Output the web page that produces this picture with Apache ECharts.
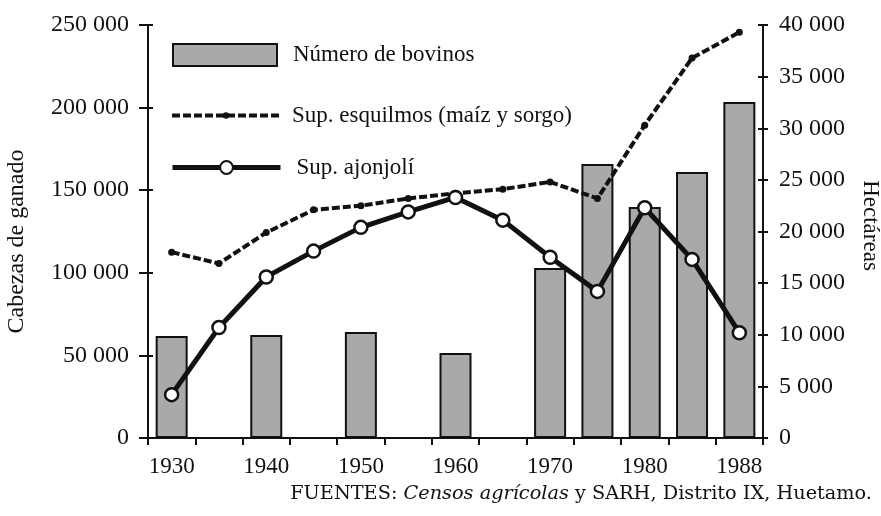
<!DOCTYPE html>
<html>
<head>
<meta charset="utf-8">
<script src="https://cdn.jsdelivr.net/npm/echarts@6/dist/echarts.min.js"></script>
<style>
  html, body { margin: 0; padding: 0; background: #fff; }
  #chart { width: 881px; height: 516px; }
</style>
</head>
<body>
<div id="chart"></div>
<script>
  // años (eje x), las barras solo existen en algunos
  var years = ['1930', '1935', '1940', '1945', '1950', '1955', '1960', '1965', '1970', '1975', '1980', '1985', '1988'];
  // número de bovinos (cabezas de ganado), null = sin barra
  var bovinos = [61700, null, 62300, null, 64200, null, 51400, null, 102900, 165900, 139800, 161000, 203400];
  // superficie esquilmos (maíz y sorgo), hectáreas
  var esquilmos = [18000, 16900, 19900, 22100, 22500, 23200, 23700, 24100, 24800, 23200, 30300, 36800, 39300];
  // superficie ajonjolí, hectáreas
  var ajonjoli = [4200, 10700, 15600, 18100, 20400, 21900, 23300, 21100, 17500, 14200, 22300, 17300, 10200];

  var serif = '"Liberation Serif", "DejaVu Serif", serif';

  function fmt(v) {
    return String(v).replace(/\B(?=(\d{3})+(?!\d))/g, ' ');
  }

  var chart = echarts.init(document.getElementById('chart'));

  var legendText = { fontFamily: serif, fontSize: 23, color: '#111' };

  var option = {
    animation: false,
    backgroundColor: '#fff',
    textStyle: { fontFamily: serif, color: '#111' },
    grid: { left: 148, right: 118, top: 25, bottom: 78, containLabel: false, outerBoundsMode: 'none' },
    title: {
      text: '{a|FUENTES: }{b|Censos agrícolas}{a| y SARH, Distrito IX, Huetamo.}',
      right: 4,
      bottom: 8,
      textStyle: {
        rich: {
          a: { fontFamily: '"DejaVu Serif", serif', fontSize: 19.3, fontWeight: 'normal', color: '#111' },
          b: { fontFamily: '"DejaVu Serif", serif', fontSize: 19.3, fontWeight: 'normal', fontStyle: 'italic', color: '#111' }
        }
      }
    },
    // tres leyendas para poder ajustar cada símbolo
    legend: [
      {
        left: 172, top: 43, padding: 0,
        icon: 'rect', itemWidth: 104, itemHeight: 22,
        textStyle: Object.assign({ padding: [0, 0, 0, 11] }, legendText),
        data: ['Número de bovinos']
      },
      {
        left: 170, top: 104, padding: 0,
        itemWidth: 108, itemHeight: 8,
        textStyle: Object.assign({ padding: [0, 0, 0, 7] }, legendText),
        data: [{ name: 'Sup. esquilmos (maíz y sorgo)', lineStyle: { width: 4, type: [8, 3] } }]
      },
      {
        left: 170, top: 156, padding: 0,
        itemWidth: 108, itemHeight: 16,
        textStyle: Object.assign({ padding: [0, 0, 0, 11] }, legendText),
        data: [{ name: 'Sup. ajonjolí', lineStyle: { width: 5 } }]
      }
    ],
    xAxis: {
      type: 'category',
      data: years,
      boundaryGap: true,
      axisLine: { lineStyle: { color: '#111', width: 2 } },
      axisTick: { show: true, interval: 0, length: 7, lineStyle: { color: '#111', width: 2 } },
      axisLabel: {
        interval: function (i) { return i % 2 === 0; },
        fontFamily: serif, fontSize: 23, color: '#111', margin: 17
      }
    },
    yAxis: [
      {
        type: 'value',
        min: 0,
        max: 250000,
        interval: 50000,
        name: 'Cabezas de ganado',
        nameLocation: 'middle',
        nameGap: 119,
        nameTextStyle: { fontFamily: serif, fontSize: 24, color: '#111', padding: [0, 20, 0, 0] },
        axisLine: { show: true, lineStyle: { color: '#111', width: 2 } },
        axisTick: { show: true, length: 9, lineStyle: { color: '#111', width: 2 } },
        splitLine: { show: false },
        axisLabel: { formatter: fmt, fontFamily: serif, fontSize: 24, color: '#111', margin: 19 }
      },
      {
        type: 'value',
        min: 0,
        max: 40000,
        interval: 5000,
        position: 'right',
        name: 'Hectáreas',
        nameLocation: 'middle',
        nameRotate: -90,
        nameGap: 96,
        nameTextStyle: { fontFamily: serif, fontSize: 23, color: '#111', padding: [0, 12, 0, 0] },
        axisLine: { show: true, lineStyle: { color: '#111', width: 2 } },
        axisTick: { show: true, length: 5, lineStyle: { color: '#111', width: 2 } },
        splitLine: { show: false },
        axisLabel: { formatter: fmt, fontFamily: serif, fontSize: 24, color: '#111', margin: 16 }
      },
      // marcas hacia dentro, para que crucen el eje como en el original
      {
        type: 'value', min: 0, max: 250000, interval: 50000, position: 'left',
        axisLine: { show: false }, axisLabel: { show: false }, splitLine: { show: false },
        axisTick: { show: true, inside: true, length: 5, lineStyle: { color: '#111', width: 2 } }
      },
      {
        type: 'value', min: 0, max: 40000, interval: 5000, position: 'right',
        axisLine: { show: false }, axisLabel: { show: false }, splitLine: { show: false },
        axisTick: { show: true, inside: true, length: 5, lineStyle: { color: '#111', width: 2 } }
      }
    ],
    series: [
      {
        name: 'Número de bovinos',
        type: 'bar',
        yAxisIndex: 0,
        data: bovinos,
        barWidth: 32,
        itemStyle: { color: '#a9a9a9', borderColor: '#111', borderWidth: 2 }
      },
      {
        name: 'Sup. esquilmos (maíz y sorgo)',
        type: 'line',
        yAxisIndex: 1,
        data: esquilmos,
        symbol: 'circle',
        symbolSize: 7,
        itemStyle: { color: '#111' },
        lineStyle: { color: '#111', width: 4, type: [8, 3] },
        z: 3
      },
      {
        name: 'Sup. ajonjolí',
        type: 'line',
        yAxisIndex: 1,
        data: ajonjoli,
        symbol: 'circle',
        symbolSize: 13,
        itemStyle: { color: '#fff', borderColor: '#111', borderWidth: 2.5 },
        lineStyle: { color: '#111', width: 5 },
        z: 4
      }
    ]
  };

  chart.setOption(option);
</script>
</body>
</html>
